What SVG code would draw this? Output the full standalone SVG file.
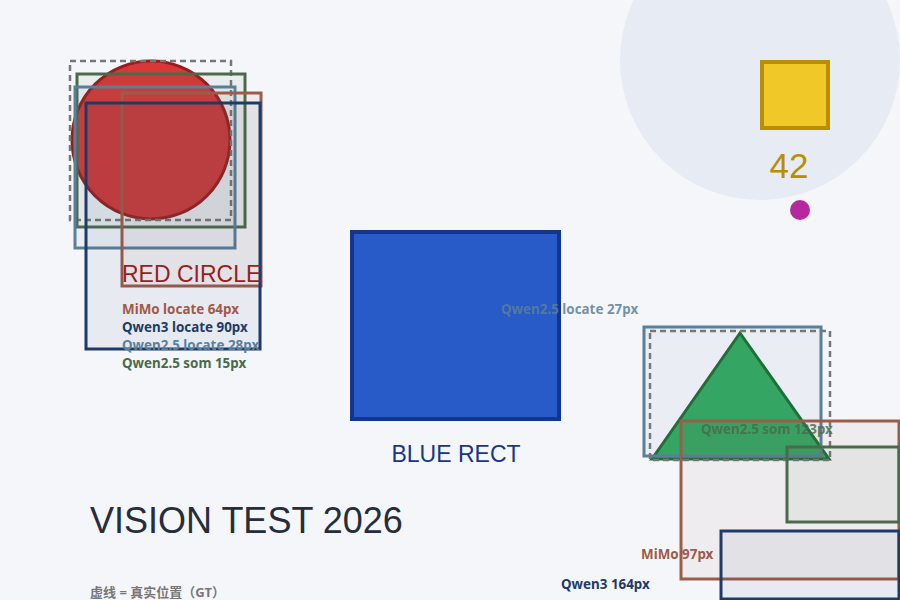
<svg xmlns="http://www.w3.org/2000/svg" width="900" height="600" viewBox="0 0 900 600">
<style>
.box{fill-opacity:0.06;stroke-width:3}
.gt{fill:none;stroke:#777777;stroke-width:2.5;stroke-dasharray:6 4}
.mimo{fill:#9b5c4c;stroke:#9b5c4c}
.q3{fill:#1f3a66;stroke:#1f3a66}
.q25l{fill:#5a7f9a;stroke:#5a7f9a}
.q25s{fill:#4a6b4a;stroke:#4a6b4a}
.lbl{font-family:"Noto Sans","Open Sans","DejaVu Sans",sans-serif;font-size:13.4px;font-weight:bold}
.big{font-family:"Liberation Sans",Arial,sans-serif}
</style>
<rect width="900" height="600" fill="#f4f6fa"/>
<g id="bg-circle"><circle cx="760" cy="60" r="140" fill="#e6ebf4"/></g>
<g id="yellow-square">
<rect x="762" y="62" width="66" height="66" fill="#f0c828" stroke="#b88f00" stroke-width="4"/>
<text x="789" y="178" text-anchor="middle" class="big" font-size="35" fill="#b88f00">42</text>
</g>
<g id="magenta-dot"><circle cx="800" cy="210" r="10" fill="#b5289f"/></g>
<g id="red-circle">
<circle cx="151" cy="140" r="79" fill="#d83838" stroke="#9b1c1c" stroke-width="3"/>
</g>
<g id="blue-rect">
<rect x="352" y="232" width="207" height="187" fill="#285bc8" stroke="#14358a" stroke-width="4"/>
<text x="456" y="462" text-anchor="middle" class="big" font-size="23" fill="#17368a">BLUE RECT</text>
</g>
<g id="green-triangle">
<polygon points="740,333 652,459 829,459" fill="#33a860" stroke="#1e6e35" stroke-width="3"/>
</g>
<g id="red-circle-boxes">
<rect class="gt" x="70" y="61" width="161" height="159"/>
<rect class="box q25s" x="77" y="74" width="168" height="153"/>
<rect class="box q25l" x="75" y="87" width="160" height="161"/>
<rect class="box mimo" x="122" y="93" width="139" height="193"/>
<rect class="box q3" x="86" y="103" width="174" height="246"/>
<text x="122" y="282" class="big" font-size="23" fill="#9b1c1c">RED CIRCLE</text>
<text x="122" y="314" class="lbl" fill="#a05a48">MiMo locate 64px</text>
<text x="122" y="332" class="lbl" fill="#1f3a66">Qwen3 locate 90px</text>
<text x="122" y="350" class="lbl" fill="#5a819e">Qwen2.5 locate 28px</text>
<text x="122" y="368" class="lbl" fill="#4a6b4a">Qwen2.5 som 15px</text>
</g>
<g id="blue-rect-label">
<text x="501" y="314" class="lbl" fill="#5a7f9a" fill-opacity="0.85">Qwen2.5 locate 27px</text>
</g>
<g id="triangle-boxes">
<rect class="box q25l" x="644" y="327" width="177" height="129"/>
<rect class="gt" x="650" y="331" width="180" height="129"/>
<rect class="box mimo" x="681" y="421" width="218" height="158"/>
<rect class="box q25s" x="787" y="447" width="112" height="75"/>
<rect class="box q3" x="721" y="531" width="178" height="68"/>
<text x="701" y="434" class="lbl" fill="#4a6b4a" fill-opacity="0.85">Qwen2.5 som 123px</text>
<text x="641" y="559" class="lbl" fill="#a05a48">MiMo 97px</text>
<text x="561" y="589" class="lbl" fill="#1f3a66">Qwen3 164px</text>
</g>
<g id="title">
<text x="90" y="533" class="big" font-size="36" fill="#262d3c">VISION TEST 2026</text>
</g>
<g id="legend">
<text x="90" y="597" font-family="'Noto Sans','Noto Sans CJK SC',sans-serif" font-size="13" font-weight="bold" fill="#777777">虚线 = 真实位置（GT）</text>
</g>
</svg>
